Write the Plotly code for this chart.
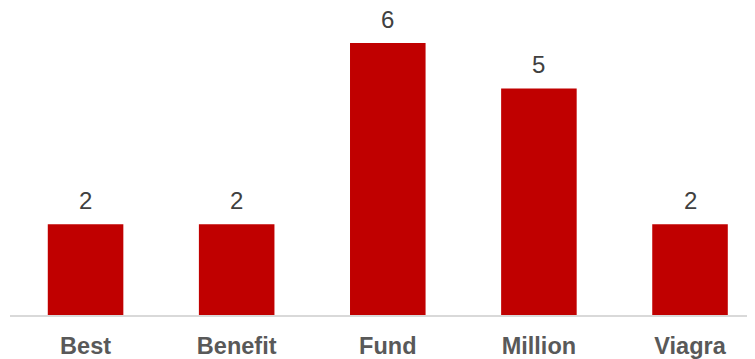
import plotly.graph_objects as go

categories = ["Best", "Benefit", "Fund", "Million", "Viagra"]
values = [2, 2, 6, 5, 2]

fig = go.Figure(go.Bar(
    x=categories, y=values,
    marker=dict(color="#C00000", line=dict(width=0)),
    width=0.5,
))

for c, v in zip(categories, values):
    fig.add_annotation(
        x=c, y=v, text=str(v), showarrow=False,
        yanchor="bottom", yshift=8,
        font=dict(family="Liberation Sans, Arial", size=24, color="#404040"),
    )

fig.update_layout(
    width=747, height=351,
    margin=dict(l=2, r=0, t=2, b=41),
    plot_bgcolor="white", paper_bgcolor="white",
    showlegend=False,
    xaxis=dict(
        range=[-0.5, 4.43],
        showline=True, linecolor="#D9D9D9", linewidth=2,
        ticks="", showgrid=False, ticklabelstandoff=9,
        tickfont=dict(family="Liberation Sans, Arial", size=23.5, color="#595959", weight="bold"),
    ),
    yaxis=dict(range=[0, 6.73], visible=False, showgrid=False, zeroline=False),
)

fig.write_html("out.html")
